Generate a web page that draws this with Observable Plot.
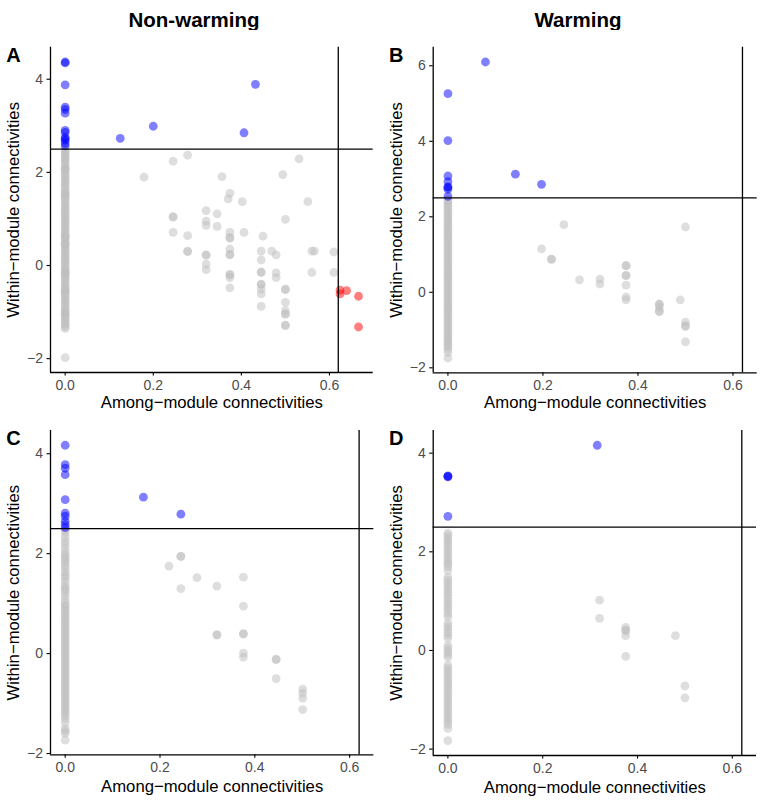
<!DOCTYPE html>
<html>
<head>
<meta charset="utf-8">
<script src="https://cdn.jsdelivr.net/npm/d3@7"></script>
<script src="https://cdn.jsdelivr.net/npm/@observablehq/plot@0.6"></script>
<style>
  html, body { margin: 0; padding: 0; background: white; }
  #chart { position: relative; width: 771px; height: 802px; font-family: "Liberation Sans", Arial, sans-serif; }
  .coltitle { position: absolute; top: 8px; font-weight: bold; font-size: 20.5px; transform: translateX(-50%); white-space: nowrap; color: black; }
  .panel { position: absolute; }
</style>
</head>
<body>
<div id="chart"></div>
<script>
// ---------- labels & ticks ----------
const columnTitles = ["Non-warming", "Warming"];
const panelLetters = ["A", "B", "C", "D"];
const xLabel = "Among\u2212module connectivities";
const yLabel = "Within\u2212module connectivities";
const xTicks = [0, 0.2, 0.4, 0.6];
const yTicksSmall = [-2, 0, 2, 4];
const yTicksLarge = [-2, 0, 2, 4, 6];
const ziThreshold = 2.5;
const piThreshold = 0.62;

// ---------- Panel A (Non-warming) ----------
const A_zeroY = [4.37, 4.35, 3.88, 3.40, 3.35, 3.27, 2.90, 2.86, 2.75, 2.72, 2.69, 2.63, 2.57,
  2.48, 2.44, 2.40, 2.36, 2.31, 2.27, 2.22, 2.18, 2.12, 2.08, 2.05, 2.05, 1.98, 1.93, 1.88, 1.84, 1.79,
  1.74, 1.70, 1.64, 1.60, 1.55, 1.52, 1.50, 1.45, 1.41, 1.36, 1.30, 1.26, 1.21, 1.17, 1.12, 1.07,
  1.02, 0.98, 0.93, 0.89, 0.84, 0.80, 0.75, 0.70, 0.66, 0.62, 0.61, 0.57, 0.52, 0.47, 0.45, 0.43,
  0.38, 0.34, 0.29, 0.24, 0.20, 0.15, 0.11, 0.06, 0.02, -0.03, -0.08, -0.12, -0.15, -0.17, -0.21,
  -0.26, -0.30, -0.35, -0.40, -0.44, -0.49, -0.53, -0.55, -0.58, -0.62, -0.67, -0.72, -0.76, -0.81,
  -0.85, -0.90, -0.95, -0.99, -1.04, -1.05, -1.08, -1.13, -1.17, -1.22, -1.26, -1.31, -1.35, -1.98];
const A_x = [0.125, 0.20, 0.406, 0.432,
  0.179, 0.245, 0.278, 0.245, 0.245, 0.245, 0.278, 0.278, 0.278,
  0.32, 0.32, 0.32, 0.32, 0.32, 0.32, 0.32, 0.345, 0.345, 0.356,
  0.374, 0.37, 0.374, 0.374, 0.374, 0.374, 0.374, 0.374, 0.374, 0.374, 0.374, 0.374,
  0.402, 0.406, 0.449, 0.445, 0.445, 0.445, 0.445, 0.445, 0.445, 0.445, 0.445, 0.445,
  0.469, 0.479, 0.479, 0.479, 0.494, 0.50, 0.50, 0.50, 0.50, 0.50, 0.50, 0.50, 0.50, 0.50,
  0.531, 0.551, 0.56, 0.566, 0.56, 0.61, 0.61,
  0.624, 0.624, 0.639, 0.666, 0.666];
const A_y = [2.73, 2.99, 2.85, 3.89,
  1.90, 2.24, 2.37, 1.05, 1.04, 0.71, 0.64, 0.31, 0.30,
  1.18, 0.95, 0.86, 0.23, 0.22, 0.03, -0.09, 1.11, 0.84, 1.91,
  1.55, 1.43, 0.71, 0.59, 0.60, 0.35, 0.23, 0.24, -0.19, -0.20, -0.26, -0.48,
  1.37, 0.71, 0.63, 0.31, 0.12, -0.14, -0.15, -0.40, -0.41, -0.51, -0.61, -0.88,
  0.31, 0.23, -0.16, -0.26, 1.95, 0.99, -0.51, -0.52, -0.79, -0.97, -1.04, -1.05, -1.28, -1.29,
  2.29, 1.37, 0.31, 0.31, -0.15, 0.29, -0.15,
  -0.53, -0.61, -0.54, -0.66, -1.32];

// ---------- Panel B (Warming) ----------
const B_zeroY = [5.26, 4.02, 3.08, 2.93, 2.79, 2.78, 2.73, 2.54,
  2.46, 2.40, 2.34, 2.28, 2.22, 2.16, 2.10, 2.04, 1.98, 1.92, 1.86, 1.80, 1.74, 1.68, 1.62, 1.56,
  1.50, 1.44, 1.38, 1.32, 1.26, 1.20, 1.14, 1.08, 1.02, 0.96, 0.90, 0.84, 0.78, 0.72, 0.66, 0.60,
  0.54, 0.48, 0.42, 0.36, 0.30, 0.24, 0.18, 0.12, 0.06, 0.00, -0.06, -0.12, -0.18, -0.24, -0.30,
  -0.36, -0.42, -0.48, -0.54, -0.60, -0.66, -0.72, -0.78, -0.84, -0.90, -0.96, -1.02, -1.08,
  -1.14, -1.20, -1.26, -1.32, -1.38, -1.44, -1.50, -1.59, -1.74];
const B_x = [0.079, 0.142, 0.197,
  0.244, 0.197, 0.218, 0.218, 0.277, 0.32, 0.32,
  0.375, 0.375, 0.375, 0.375, 0.375, 0.375, 0.375,
  0.445, 0.445, 0.445, 0.445, 0.445, 0.489, 0.50, 0.50, 0.50, 0.50, 0.50];
const B_y = [6.10, 3.13, 2.86,
  1.79, 1.15, 0.88, 0.87, 0.33, 0.35, 0.22,
  0.70, 0.71, 0.44, 0.45, 0.19, -0.13, -0.20,
  -0.31, -0.32, -0.40, -0.51, -0.50, -0.20, 1.73, -0.79, -0.89, -0.90, -1.31];

// ---------- Panel C (Non-warming) ----------
const C_zeroY = [4.17, 3.78, 3.71, 3.58, 3.08, 2.81, 2.75, 2.65, 2.58, 2.52,
  2.47, 2.42, 2.33, 2.25, 2.18, 2.10, 2.02, 1.97, 1.92, 1.87, 1.82, 1.76, 1.70, 1.63, 1.57, 1.52,
  1.45, 1.37, 1.32, 1.27, 1.22, 1.15, 1.07, 1.00, 0.96, 0.91, 0.86, 0.81, 0.76, 0.71, 0.66, 0.61,
  0.56, 0.51, 0.46, 0.41, 0.36, 0.31, 0.26, 0.21, 0.16, 0.11, 0.06, 0.01, -0.04, -0.09, -0.14,
  -0.19, -0.24, -0.29, -0.34, -0.39, -0.44, -0.49, -0.54, -0.59, -0.64, -0.69, -0.74, -0.79,
  -0.84, -0.89, -0.94, -0.99, -1.04, -1.09, -1.14, -1.19, -1.24, -1.30, -1.38, -1.50, -1.55,
  -1.59, -1.73];
const C_x = [0.165, 0.244,
  0.244, 0.244, 0.219, 0.244, 0.278, 0.32, 0.32, 0.32,
  0.376, 0.376, 0.376, 0.376, 0.376, 0.376,
  0.445, 0.445, 0.445, 0.501, 0.501, 0.501, 0.501];
const C_y = [3.13, 2.79,
  1.95, 1.94, 1.75, 1.30, 1.52, 1.35, 0.38, 0.37,
  1.53, 0.95, 0.40, 0.39, 0.01, -0.07,
  -0.11, -0.12, -0.50, -0.71, -0.79, -0.89, -1.12];

// ---------- Panel D (Warming) ----------
const D_zeroY = [3.54, 3.53, 3.52, 2.72,
  2.38, 2.33, 2.27, 2.22, 2.16, 2.10, 2.04, 1.98, 1.92, 1.86, 1.80, 1.75, 1.70, 1.62, 1.48,
  1.42, 1.36, 1.30, 1.24, 1.18, 1.12, 1.05, 0.99, 0.93, 0.87, 0.81, 0.74, 0.68, 0.55, 0.49,
  0.43, 0.37, 0.31, 0.25, 0.10, 0.04, -0.02, -0.08, -0.14, -0.30, -0.36, -0.42, -0.48, -0.54,
  -0.60, -0.66, -0.72, -0.78, -0.84, -0.90, -0.96, -1.02, -1.08, -1.14, -1.20, -1.26, -1.32,
  -1.38, -1.44, -1.50, -1.58, -1.83];
const D_x = [0.315, 0.32, 0.32, 0.375, 0.375, 0.375, 0.375, 0.375, 0.48, 0.50, 0.50];
const D_y = [4.16, 1.02, 0.65, 0.47, 0.40, 0.41, 0.30, -0.12, 0.30, -0.72, -0.96];

// ---------- styling ----------
const roleColors = { peripheral: "#bebebe", hub: "blue", connector: "red" };
const fontFamily = "'Liberation Sans', Arial, sans-serif";

const panels = [
  { letter: panelLetters[0], zeroY: A_zeroY, xs: A_x, ys: A_y, yTicks: yTicksSmall,
    left: 0, top: 30, width: 385, height: 385, mL: 50, mR: 12.3, mT: 16.7, mB: 43, xLabDy: 30 },
  { letter: panelLetters[1], zeroY: B_zeroY, xs: B_x, ys: B_y, yTicks: yTicksLarge,
    left: 385, top: 30, width: 386, height: 385, mL: 47.7, mR: 14.3, mT: 16.7, mB: 42.7, xLabDy: 30 },
  { letter: panelLetters[2], zeroY: C_zeroY, xs: C_x, ys: C_y, yTicks: yTicksSmall,
    left: 0, top: 415, width: 385, height: 387, mL: 50, mR: 11.7, mT: 15, mB: 47.7, xLabDy: 32 },
  { letter: panelLetters[3], zeroY: D_zeroY, xs: D_x, ys: D_y, yTicks: yTicksSmall,
    left: 385, top: 415, width: 386, height: 387, mL: 47.7, mR: 15, mT: 15, mB: 47, xLabDy: 32 }
];

function expand(ext) {
  const pad = (ext[1] - ext[0]) * 0.05;
  return [ext[0] - pad, ext[1] + pad];
}

const chart = document.getElementById("chart");

columnTitles.forEach((t, i) => {
  const d = document.createElement("div");
  d.className = "coltitle";
  d.textContent = t;
  d.style.left = (i === 0 ? 194 : 578) + "px";
  chart.appendChild(d);
});

for (const p of panels) {
  const rows = [
    ...p.zeroY.map(y => ({ x: 0, y })),
    ...p.xs.map((x, i) => ({ x, y: p.ys[i] }))
  ];
  rows.forEach(d => {
    d.role = d.y > ziThreshold ? "hub" : d.x > piThreshold ? "connector" : "peripheral";
  });
  const xDom = expand(d3.extent([...rows.map(d => d.x), piThreshold]));
  const yDom = expand(d3.extent([...rows.map(d => d.y), ziThreshold]));

  const dotOpts = role => ({ x: "x", y: "y", r: 4.4, fill: roleColors[role], fillOpacity: 0.5, stroke: "none" });

  const svg = Plot.plot({
    width: p.width,
    height: p.height,
    marginLeft: p.mL,
    marginRight: p.mR,
    marginTop: p.mT,
    marginBottom: p.mB,
    style: { fontFamily, fontSize: "14px", background: "white", overflow: "visible" },
    x: { domain: xDom },
    y: { domain: yDom },
    marks: [
      Plot.dot(rows.filter(d => d.role === "peripheral"), dotOpts("peripheral")),
      Plot.dot(rows.filter(d => d.role === "hub"), dotOpts("hub")),
      Plot.dot(rows.filter(d => d.role === "connector"), dotOpts("connector")),
      Plot.ruleY([ziThreshold], { stroke: "black", strokeWidth: 1.3 }),
      Plot.ruleX([piThreshold], { stroke: "black", strokeWidth: 1.3 }),
      Plot.ruleX([xDom[0]], { stroke: "black", strokeWidth: 1.3 }),
      Plot.ruleY([yDom[0]], { stroke: "black", strokeWidth: 1.3 }),
      Plot.axisX({ ticks: xTicks, tickFormat: d3.format(".1f"), tickSize: 3.5, tickPadding: 4,
        stroke: "black", fill: "#4d4d4d", strokeWidth: 1.1, fontSize: 14, label: null }),
      Plot.axisY({ ticks: p.yTicks, tickFormat: d3.format("d"), tickSize: 3.5, tickPadding: 4,
        stroke: "black", fill: "#4d4d4d", strokeWidth: 1.1, fontSize: 14, label: null }),
      Plot.text([xLabel], { frameAnchor: "bottom", dy: p.xLabDy, text: d => d, fontSize: 16.7,
        fill: "black", textAnchor: "middle", lineAnchor: "middle" }),
      Plot.text([yLabel], { frameAnchor: "left", dx: -36.5, rotate: -90, text: d => d, fontSize: 16.7,
        fill: "black", textAnchor: "middle", lineAnchor: "middle" }),
      Plot.text([p.letter], { frameAnchor: "top-left", dx: -37, dy: 8, text: d => d, fontSize: 20,
        fontWeight: "bold", fill: "black", textAnchor: "middle", lineAnchor: "middle" })
    ]
  });
  svg.classList.add("panel");
  svg.style.left = p.left + "px";
  svg.style.top = p.top + "px";
  chart.appendChild(svg);
}
</script>
</body>
</html>
